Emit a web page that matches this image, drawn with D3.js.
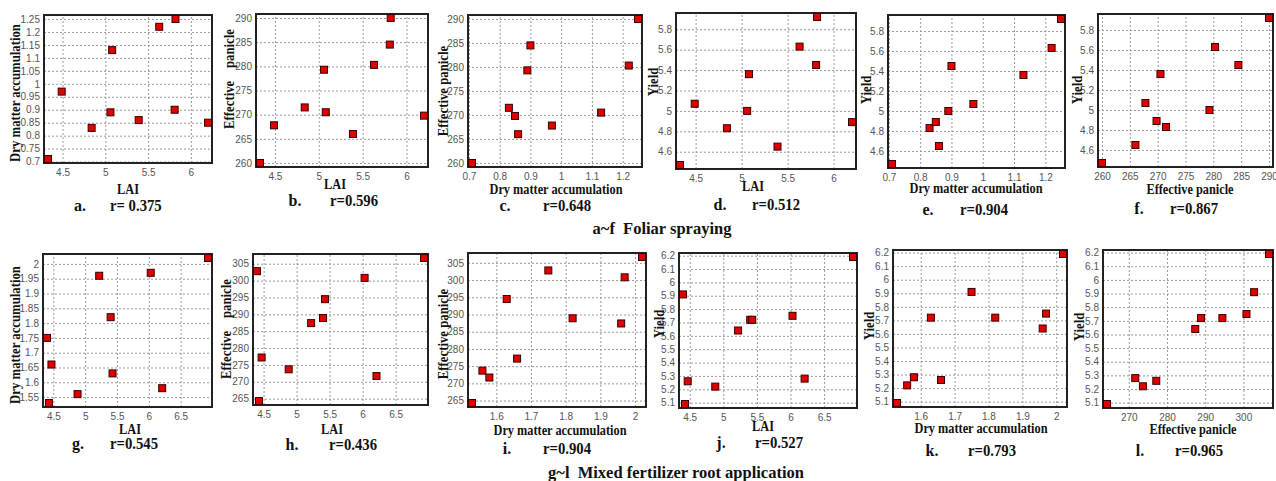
<!DOCTYPE html>
<html lang="en">
<head>
	<meta charset="UTF-8">
	<script type="text/javascript" src="https://d3js.org/d3.v7.min.js"></script>
	<title>Correlation scatter plots</title>
	<style>
		body{ margin: 0; background: #fff; }
		.grid line{ stroke: #9a9a9a; stroke-dasharray: 2,2; }
		.grid path{ display: none; }
		.tick-lab path{ display: none; }
		.tick-lab text{ fill: #555; font-family: "Liberation Sans", Arial, sans-serif; font-size: 10px; }
		.title{ font-family: "Liberation Serif", "Times New Roman", serif; font-weight: bold; fill: #111; }
		.frame{ fill: none; stroke: #222; stroke-width: 2; }
		.dot{ fill: #e00000; stroke: #3a0000; stroke-width: 1; }
	</style>
</head>
<body>
<script type="text/javascript">
	// ten treatments, foliar spraying
	const foliarLAI = [4.33, 4.49, 4.84, 5.06, 5.08, 5.39, 5.63, 5.82, 5.81, 6.20];
	const foliarDMA = [0.71, 0.97, 0.83, 0.89, 1.13, 0.86, 1.22, 1.25, 0.90, 0.85];
	const foliarPanicle = [260.0, 267.8, 271.5, 279.3, 270.5, 266.0, 280.3, 290.0, 284.5, 269.8];
	const foliarYield = [4.47, 5.07, 4.83, 5.00, 5.36, 4.65, 5.63, 5.92, 5.45, 4.89];
	// ten treatments, mixed fertilizer root application
	const mixedLAI = [4.40, 4.43, 4.47, 4.88, 5.22, 5.40, 5.43, 6.03, 6.21, 6.93];
	const mixedDMA = [1.75, 1.53, 1.66, 1.56, 1.96, 1.82, 1.63, 1.97, 1.58, 2.02];
	const mixedPanicle = [302.8, 264.3, 277.2, 273.7, 287.4, 288.9, 294.5, 300.8, 271.7, 306.7];
	const mixedYield = [5.91, 5.09, 5.26, 5.22, 5.64, 5.72, 5.72, 5.75, 5.28, 6.19];

	const letters = ["a.", "b.", "c.", "d.", "e.", "f.", "g.", "h.", "i.", "j.", "k.", "l."];
	const rTexts = ["r= 0.375", "r=0.596", "r=0.648", "r=0.512", "r=0.904", "r=0.867",
		"r=0.545", "r=0.436", "r=0.904", "r=0.527", "r=0.793", "r=0.965"];
	const groupTitles = ["a~f  Foliar spraying", "g~l  Mixed fertilizer root application"];
	// x / y variable of each panel (same order in both groups)
	const pairs = [["LAI", "DMA"], ["LAI", "EP"], ["DMA", "EP"], ["LAI", "Y"], ["DMA", "Y"], ["EP", "Y"]];
	const varNames = {LAI: "LAI", DMA: "Dry matter accumulation", EP: "Effective panicle", Y: "Yield"};
	const xSteps = [{LAI: 0.5, DMA: 0.1, EP: 5}, {LAI: 0.5, DMA: 0.1, EP: 10}];
	const ySteps = [{DMA: 0.05, EP: 5, Y: 0.2}, {DMA: 0.05, EP: 5, Y: 0.1}];

	const groups = [
		{LAI: foliarLAI, DMA: foliarDMA, EP: foliarPanicle, Y: foliarYield},
		{LAI: mixedLAI, DMA: mixedDMA, EP: mixedPanicle, Y: mixedYield}
	];

	// where each panel sits: frame [x0,x1,y0,y1], y title centre, x title centre, caption
	const layout = [
		{f: [44, 212, 15, 163], yt: [14, 93], xt: [128, 188], cy: 205, lx: 80, rx: 110},
		{f: [256, 428, 14, 167], yt: [228, 79], xt: [335, 183], cy: 200, lx: 295, rx: 330},
		{f: [468, 642, 15, 167], yt: [442, 91], xt: [556, 188], cy: 205, lx: 505, rx: 543},
		{f: [676, 856, 13, 169], yt: [652, 82], xt: [753, 185], cy: 204, lx: 720, rx: 752},
		{f: [888, 1065, 15, 168], yt: [865, 90], xt: [976, 187], cy: 209, lx: 928, rx: 960},
		{f: [1098, 1273, 14, 167], yt: [1076, 90], xt: [1190, 188], cy: 208, lx: 1139, rx: 1170},
		{f: [43, 212, 254, 407], yt: [14, 335], xt: [130, 428], cy: 443, lx: 78, rx: 110},
		{f: [253, 428, 254, 405], yt: [225, 329], xt: [332, 428], cy: 444, lx: 292, rx: 329},
		{f: [468, 646, 253, 407], yt: [442, 334], xt: [560, 429], cy: 448, lx: 507, rx: 543},
		{f: [679, 857, 253, 408], yt: [658, 324], xt: [763, 425], cy: 442, lx: 721, rx: 755},
		{f: [893, 1067, 250, 407], yt: [868, 326], xt: [981, 427], cy: 450, lx: 932, rx: 968},
		{f: [1103, 1273, 250, 408], yt: [1078, 327], xt: [1193, 428], cy: 450, lx: 1140, rx: 1175}
	];

	const svg = d3.select("body")
		.append("svg")
		.attr("width", 1276)
		.attr("height", 481);

	const fmt = v => String(+v.toFixed(4));

	// ticks at every step that falls inside the frame
	function ticksIn(scale, step, a, b) {
		let lo = Math.min(scale.invert(a), scale.invert(b)),
			hi = Math.max(scale.invert(a), scale.invert(b));
		let out = [];
		for (let k = Math.ceil(lo / step - 1e-6); k <= Math.floor(hi / step + 1e-6); k++)
			out.push(+(k * step).toFixed(4));
		return out;
	}

	// the source figure uses a tall, narrow bold serif: squeeze it sideways
	function squeeze(sel, f) {
		sel.each(function () {
			let w = this.getComputedTextLength();
			d3.select(this).attr("textLength", w * f).attr("lengthAdjust", "spacingAndGlyphs");
		});
		return sel;
	}

	for (let i = 0; i < 12; i++) {
		const gi = i < 6 ? 0 : 1,
			pair = pairs[i % 6],
			L = layout[i],
			[x0, x1, y0, y1] = L.f,
			xs = groups[gi][pair[0]],
			ys = groups[gi][pair[1]];

		let x = d3.scaleLinear().domain(d3.extent(xs)).range([x0 + 4, x1 - 4]),
			y = d3.scaleLinear().domain(d3.extent(ys)).range([y1 - 4, y0 + 4]);
		let xt = ticksIn(x, xSteps[gi][pair[0]], x0, x1),
			yt = ticksIn(y, ySteps[gi][pair[1]], y1, y0);

		let g = svg.append("g");

		// dotted grid
		g.append("g")
			.attr("class", "grid")
			.attr("transform", "translate(0," + y1 + ")")
			.call(d3.axisBottom(x).tickValues(xt).tickSize(-(y1 - y0)).tickFormat(""));
		g.append("g")
			.attr("class", "grid")
			.attr("transform", "translate(" + x0 + ",0)")
			.call(d3.axisLeft(y).tickValues(yt).tickSize(-(x1 - x0)).tickFormat(""));

		// tick labels
		g.append("g")
			.attr("class", "tick-lab")
			.attr("transform", "translate(0," + y1 + ")")
			.call(d3.axisBottom(x).tickValues(xt).tickSize(0).tickPadding(6).tickFormat(fmt));
		g.append("g")
			.attr("class", "tick-lab")
			.attr("transform", "translate(" + x0 + ",0)")
			.call(d3.axisLeft(y).tickValues(yt).tickSize(0).tickPadding(4).tickFormat(fmt));
		g.selectAll(".tick-lab text").attr("font-family", null).attr("font-size", null);

		g.append("rect")
			.attr("class", "frame")
			.attr("x", x0).attr("y", y0)
			.attr("width", x1 - x0).attr("height", y1 - y0);

		// points
		g.selectAll(".dot")
			.data(xs.map((d, k) => [d, ys[k]]))
			.enter()
			.append("rect")
			.attr("class", "dot")
			.attr("x", d => x(d[0]) - 3.5)
			.attr("y", d => y(d[1]) - 3.5)
			.attr("width", 7)
			.attr("height", 7);

		// axis titles
		let yName = varNames[pair[1]];
		if (pair[1] === "EP" && pair[0] === "LAI") yName = "Effective\u00a0\u00a0\u00a0\u00a0panicle";
		squeeze(g.append("text")
			.attr("class", "title")
			.attr("transform", "translate(" + (L.yt[0] + 5.5) + "," + L.yt[1] + ") rotate(-90)")
			.attr("text-anchor", "middle")
			.style("font-size", "15px")
			.text(yName), 0.85);
		squeeze(g.append("text")
			.attr("class", "title")
			.attr("x", L.xt[0])
			.attr("y", L.xt[1] + 5.5)
			.attr("text-anchor", "middle")
			.style("font-size", "15px")
			.text(varNames[pair[0]]), 0.82);

		// caption
		g.append("text")
			.attr("class", "title")
			.attr("x", L.lx)
			.attr("y", L.cy + 6)
			.attr("text-anchor", "middle")
			.style("font-size", "16px")
			.text(letters[i]);
		squeeze(g.append("text")
			.attr("class", "title")
			.attr("x", L.rx)
			.attr("y", L.cy + 6)
			.style("font-size", "16px")
			.text(rTexts[i]), 0.92);
	}

	svg.append("text")
		.attr("class", "title")
		.attr("x", 662).attr("y", 234)
		.attr("text-anchor", "middle")
		.style("white-space", "pre")
		.style("font-size", "16.5px")
		.text(groupTitles[0]);
	svg.append("text")
		.attr("class", "title")
		.attr("x", 676).attr("y", 478)
		.attr("text-anchor", "middle")
		.style("white-space", "pre")
		.style("font-size", "16.5px")
		.text(groupTitles[1]);
</script>
</body>
</html>
